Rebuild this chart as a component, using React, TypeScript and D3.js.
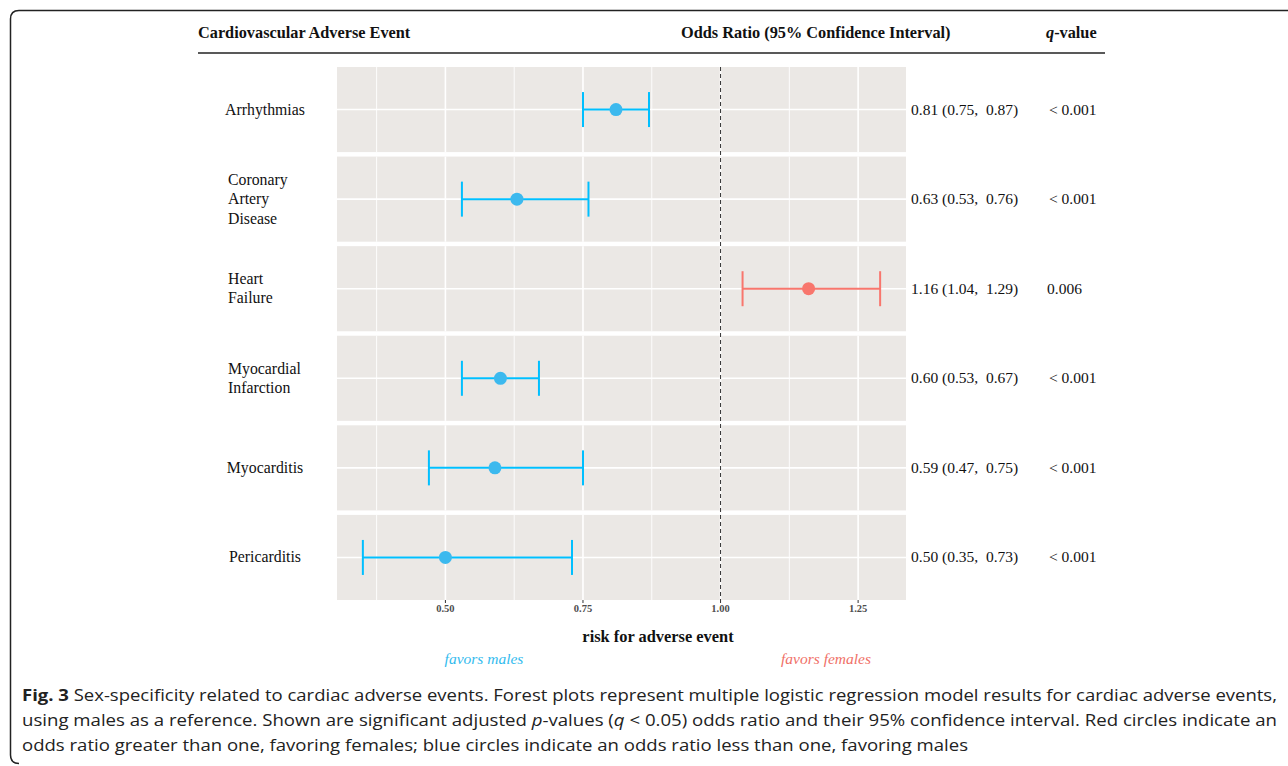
import React from "react";
import * as d3 from "d3";

const events = [
  ["Arrhythmias"],
  ["Coronary", "Artery", "Disease"],
  ["Heart", "Failure"],
  ["Myocardial", "Infarction"],
  ["Myocarditis"],
  ["Pericarditis"],
];
const oddsRatio = [0.81, 0.63, 1.16, 0.6, 0.59, 0.5];
const ciLow = [0.75, 0.53, 1.04, 0.53, 0.47, 0.35];
const ciHigh = [0.87, 0.76, 1.29, 0.67, 0.75, 0.73];
const qValues = ["< 0.001", "< 0.001", "0.006", "< 0.001", "< 0.001", "< 0.001"];
const majorTicks = [0.5, 0.75, 1.0, 1.25];
const minorTicks = [0.375, 0.625, 0.875, 1.125];

const BLUE = "#00bfff";
const BLUE_PT = "#3cb9ee";
const RED = "#f8766d";
const PANEL = "#ebe8e5";
const SERIF = "'Liberation Serif', 'Times New Roman', serif";
const SANS = "'Open Sans', sans-serif";

export default function App() {
  const x0 = 337, x1 = 906;
  const y0 = 67, y1 = 600;
  const lo = d3.min(ciLow)!, hi = d3.max(ciHigh)!;
  const pad = (hi - lo) * 0.05;
  const x = d3.scaleLinear().domain([lo - pad, hi + pad]).range([x0, x1]);
  const idx = events.map((_, i) => String(i));
  const y = d3.scaleBand().domain(idx).range([y0, y1]).paddingInner(0.05).paddingOuter(0);
  const bw = y.bandwidth();
  const fmt = d3.format(".2f");

  return (
    <svg width={1288} height={766} style={{ position: "absolute", left: 0, top: 0, background: "#fff" }}>
      {/* figure frame */}
      <path d="M1288,10.5 L19,10.5 Q10.5,10.5 10.5,19 L10.5,755 Q10.5,763.5 19,763.5" fill="none" stroke="#222" strokeWidth={1.5} />

      {/* header */}
      <g fontFamily={SERIF} fontWeight="bold" fontSize={16.3} fill="#111">
        <text x={198} y={38}>Cardiovascular Adverse Event</text>
        <text x={681} y={38}>Odds Ratio (95% Confidence Interval)</text>
        <text x={1046} y={38}><tspan fontStyle="italic">q</tspan>-value</text>
      </g>
      <line x1={198} x2={1105} y1={53} y2={53} stroke="#222" strokeWidth={1.3} />

      {/* panels */}
      {events.map((lab, i) => {
        const top = y(String(i))!;
        const cy = top + bw / 2;
        const lineH = 19.5;
        return (
          <g key={i}>
            <rect x={x0} y={top} width={x1 - x0} height={bw} fill={PANEL} />
            {minorTicks.map((t) => (
              <line key={"m" + t} x1={x(t)} x2={x(t)} y1={top} y2={top + bw} stroke="#fff" strokeWidth={0.9} />
            ))}
            {majorTicks.map((t) => (
              <line key={"M" + t} x1={x(t)} x2={x(t)} y1={top} y2={top + bw} stroke="#fff" strokeWidth={1.6} />
            ))}
            <line x1={x0} x2={x1} y1={cy} y2={cy} stroke="#fff" strokeWidth={1.6} />
            {/* row label */}
            {lab.length === 1 ? (
              <text x={265} y={cy + 5} textAnchor="middle" fontFamily={SERIF} fontSize={15.8} fill="#111">{lab[0]}</text>
            ) : (
              lab.map((l, k) => (
                <text key={k} x={228} y={cy + 5 + (k - (lab.length - 1) / 2) * lineH} fontFamily={SERIF} fontSize={15.8} fill="#111">{l}</text>
              ))
            )}
            {/* OR text */}
            <text x={911} y={cy + 5} fontFamily={SERIF} fontSize={15.5} fill="#111" style={{ whiteSpace: "pre" }}>
              {`${fmt(oddsRatio[i])} (${fmt(ciLow[i])},  ${fmt(ciHigh[i])})`}
            </text>
            <text x={qValues[i].startsWith("<") ? 1049 : 1047} y={cy + 5} fontFamily={SERIF} fontSize={15.5} fill="#111" style={{ whiteSpace: "pre" }}>
              {qValues[i].replace("< ", "< ")}
            </text>
          </g>
        );
      })}

      {/* reference line */}
      <line x1={x(1)} x2={x(1)} y1={y0} y2={y1} stroke="#333" strokeWidth={1} strokeDasharray="4,3" />

      {/* error bars and points */}
      {events.map((_, i) => {
        const cy = y(String(i))! + bw / 2;
        const col = oddsRatio[i] > 1 ? RED : BLUE;
        const ptCol = oddsRatio[i] > 1 ? RED : BLUE_PT;
        const cap = 17.5;
        return (
          <g key={"e" + i}>
            <line x1={x(ciLow[i])} x2={x(ciHigh[i])} y1={cy} y2={cy} stroke={col} strokeWidth={2} />
            <line x1={x(ciLow[i])} x2={x(ciLow[i])} y1={cy - cap} y2={cy + cap} stroke={col} strokeWidth={2} />
            <line x1={x(ciHigh[i])} x2={x(ciHigh[i])} y1={cy - cap} y2={cy + cap} stroke={col} strokeWidth={2} />
            <circle cx={x(oddsRatio[i])} cy={cy} r={6.5} fill={ptCol} />
          </g>
        );
      })}

      {/* x axis */}
      {majorTicks.map((t) => (
        <g key={"t" + t}>
          <line x1={x(t)} x2={x(t)} y1={y1} y2={y1 + 3} stroke="#333" strokeWidth={1} />
          <text x={x(t)} y={y1 + 12} textAnchor="middle" fontFamily={SERIF} fontWeight="bold" fontSize={10.5} fill="#4d4d4d">{fmt(t)}</text>
        </g>
      ))}
      <text x={658} y={642} textAnchor="middle" fontFamily={SERIF} fontWeight="bold" fontSize={16.4} fill="#111">risk for adverse event</text>
      <text x={484} y={664} textAnchor="middle" fontFamily={SERIF} fontStyle="italic" fontSize={15.5} fill="#33bbee">favors males</text>
      <text x={826} y={664} textAnchor="middle" fontFamily={SERIF} fontStyle="italic" fontSize={15.5} fill="#f07068">favors females</text>

      {/* caption */}
      <g fontFamily={SANS} fontSize={16.5} fill="#222">
        <text x={22} y={701} textLength={1255} lengthAdjust="spacingAndGlyphs">
          <tspan fontWeight="bold">Fig. 3</tspan> Sex-specificity related to cardiac adverse events. Forest plots represent multiple logistic regression model results for cardiac adverse events,
        </text>
        <text x={22} y={726} textLength={1255} lengthAdjust="spacingAndGlyphs">
          using males as a reference. Shown are significant adjusted <tspan fontStyle="italic">p</tspan>-values (<tspan fontStyle="italic">q</tspan> &lt; 0.05) odds ratio and their 95% confidence interval. Red circles indicate an
        </text>
        <text x={22} y={751} textLength={946} lengthAdjust="spacingAndGlyphs">
          odds ratio greater than one, favoring females; blue circles indicate an odds ratio less than one, favoring males
        </text>
      </g>
    </svg>
  );
}
